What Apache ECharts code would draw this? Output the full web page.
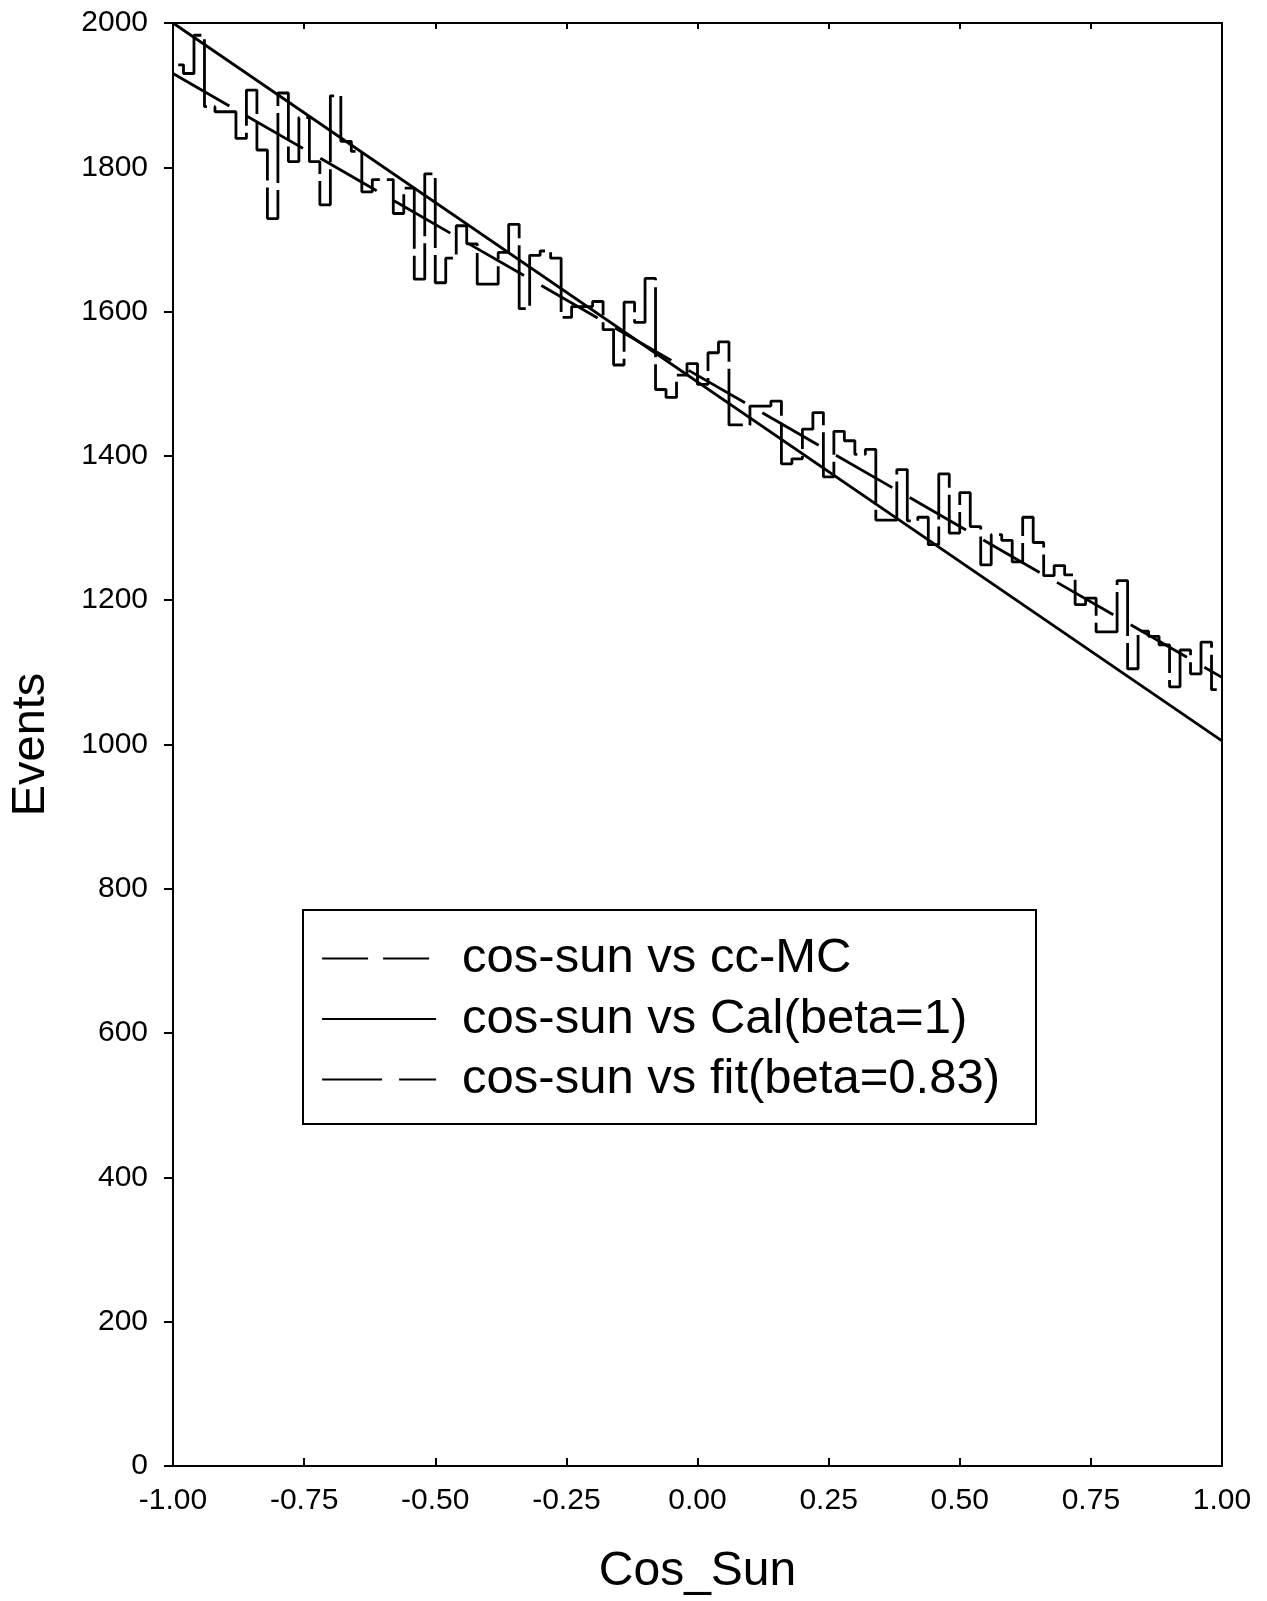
<!DOCTYPE html>
<html>
<head>
<meta charset="utf-8">
<script src="https://cdn.jsdelivr.net/npm/echarts@6/dist/echarts.min.js"></script>
<style>
  html, body { margin: 0; padding: 0; background: #fff; }
  #chart { width: 1267px; height: 1601px; }
</style>
</head>
<body>
<div id="chart"></div>
<script>
// Histogram of cos(sun angle): 100 bins of width 0.02 on [-1, 1]
const binStart = -0.99;   // centre of the first bin
const binWidth = 0.02;
const ccMcCounts = [
  1942, 1930, 1983, 1884, 1877, 1877, 1840, 1907, 1824, 1729,
  1903, 1808, 1869, 1808, 1748, 1899, 1836, 1822, 1766, 1783,
  1783, 1736, 1771, 1645, 1791, 1640, 1674, 1719, 1694, 1638,
  1638, 1682, 1721, 1604, 1678, 1684, 1674, 1592, 1607, 1607,
  1614, 1575, 1526, 1613, 1585, 1646, 1492, 1481, 1512, 1528,
  1499, 1543, 1558, 1443, 1443, 1469, 1469, 1476, 1389, 1396,
  1437, 1460, 1371, 1434, 1421, 1402, 1409, 1311, 1311, 1381,
  1310, 1315, 1277, 1375, 1293, 1349, 1302, 1249, 1291, 1283,
  1253, 1315, 1280, 1234, 1248, 1235, 1194, 1203, 1156, 1156,
  1227, 1105, 1157, 1150, 1138, 1080, 1131, 1098, 1142, 1076
];

// Calculated expectation (beta = 1) and fitted expectation (beta = 0.83)
const calLine = [[-1, 2000], [1, 1005]];
const fitLine = [[-1, 1930], [1, 1093]];

const seriesNames = [
  'cos-sun vs cc-MC',
  'cos-sun vs Cal(beta=1)',
  'cos-sun vs fit(beta=0.83)'
];

const xName = 'Cos_Sun';
const yName = 'Events';

const histData = ccMcCounts.map((v, i) => [binStart + i * binWidth, v]);

const FONT = '"Liberation Sans", Arial, Helvetica, sans-serif';
const INK = '#000';

const chart = echarts.init(document.getElementById('chart'), null, { renderer: 'canvas' });

const option = {
  backgroundColor: '#fff',
  animation: false,
  color: [INK, INK, INK],
  textStyle: { fontFamily: FONT, color: INK },
  grid: { left: 173, right: 45, top: 23, bottom: 129, containLabel: false },
  xAxis: [
    {
      type: 'value', min: -1, max: 1, interval: 0.25,
      name: xName, nameLocation: 'middle', nameGap: 82,
      nameTextStyle: { fontSize: 48, color: INK, fontFamily: FONT },
      axisLine: { show: true, onZero: false, lineStyle: { color: INK, width: 2 } },
      axisTick: { show: true, inside: true, length: 8, lineStyle: { color: INK, width: 2 } },
      axisLabel: { fontSize: 30, color: INK, margin: 20, fontFamily: FONT,
                   formatter: v => v.toFixed(2) },
      splitLine: { show: false }
    },
    {
      type: 'value', position: 'top', min: -1, max: 1, interval: 0.25,
      axisLine: { show: true, onZero: false, lineStyle: { color: INK, width: 2 } },
      axisTick: { show: true, inside: true, length: 6, lineStyle: { color: INK, width: 2 } },
      axisLabel: { show: false },
      splitLine: { show: false }
    }
  ],
  yAxis: [
    {
      type: 'value', min: 0, max: 2000, interval: 200,
      name: yName, nameLocation: 'middle', nameGap: 118, nameRotate: 90,
      nameTextStyle: { fontSize: 47, color: INK, fontFamily: FONT },
      axisLine: { show: true, onZero: false, lineStyle: { color: INK, width: 2 } },
      axisTick: { show: true, inside: false, length: 9, lineStyle: { color: INK, width: 2 } },
      axisLabel: { fontSize: 30, color: INK, margin: 25, fontFamily: FONT,
                   formatter: v => String(v) },
      splitLine: { show: false }
    },
    {
      type: 'value', position: 'right', min: 0, max: 2000, interval: 200,
      axisLine: { show: true, onZero: false, lineStyle: { color: INK, width: 2 } },
      axisTick: { show: false },
      axisLabel: { show: false },
      splitLine: { show: false }
    }
  ],
  legend: {
    orient: 'vertical',
    left: 303, top: 910,
    padding: [24, 36, 20, 18],
    itemWidth: 114, itemHeight: 14, itemGap: 11.5,
    borderColor: INK, borderWidth: 2,
    backgroundColor: '#fff',
    selectedMode: false,
    // line-only keys: hide the marker that line series add to their legend icon
    itemStyle: { color: 'rgba(0,0,0,0)', borderWidth: 0, opacity: 0 },
    textStyle: { fontSize: 49, color: INK, fontFamily: FONT, padding: [0, 0, 0, 21] },
    data: [
      { name: seriesNames[0], lineStyle: { type: [46, 15], width: 2.2 } },
      { name: seriesNames[1], lineStyle: { width: 2.2 } },
      { name: seriesNames[2], lineStyle: { type: [60, 17], width: 2.2 } }
    ]
  },
  series: [
    {
      name: seriesNames[0], type: 'line', step: 'middle',
      data: histData, symbol: 'none', z: 3,
      itemStyle: { color: INK },
      lineStyle: { color: INK, width: 2.8, type: [70, 7] }
    },
    {
      name: seriesNames[1], type: 'line',
      data: calLine, symbol: 'none', z: 2,
      itemStyle: { color: INK },
      lineStyle: { color: INK, width: 2.8 }
    },
    {
      name: seriesNames[2], type: 'line',
      data: fitLine, symbol: 'none', z: 2,
      itemStyle: { color: INK },
      lineStyle: { color: INK, width: 2.8, type: [65, 20] }
    }
  ]
};

chart.setOption(option);
</script>
</body>
</html>
